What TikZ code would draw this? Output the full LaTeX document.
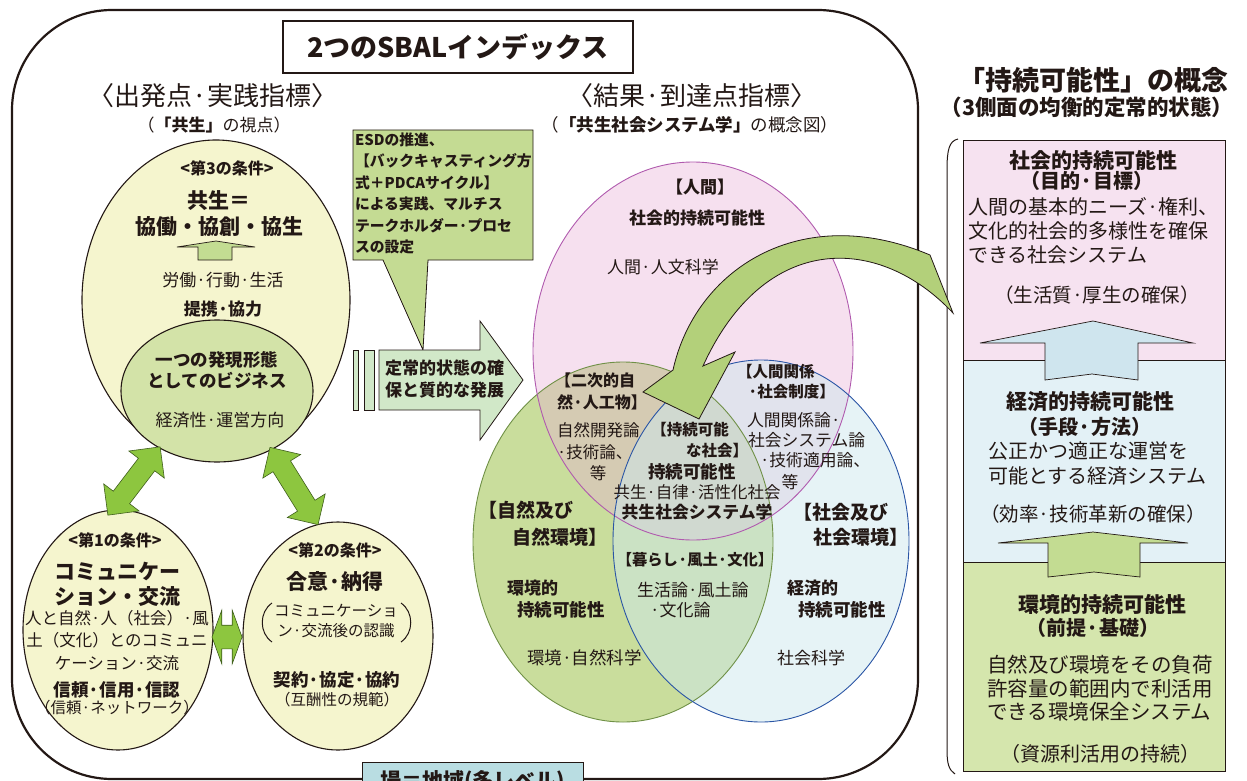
\documentclass[tikz,border=0pt]{standalone}
\usepackage{fontspec}
\setmainfont{Noto Sans CJK JP}
\usetikzlibrary{shapes.geometric,shapes.arrows}
\definecolor{ink}{HTML}{231815}
\definecolor{ylw}{HTML}{F5F5CE}
\definecolor{ingreen}{HTML}{D3E3A8}
\definecolor{dblfill}{HTML}{8DC63F}
\definecolor{dbldraw}{HTML}{3F5E1C}
\definecolor{callout}{HTML}{C4DB93}
\definecolor{pale}{HTML}{D1E8C8}
\definecolor{vgreen}{HTML}{C9DD9C}
\definecolor{vpink}{HTML}{E9B1D7}
\definecolor{vblue}{HTML}{CDE7ED}
\definecolor{lpink}{HTML}{B05AAE}
\definecolor{lgreen}{HTML}{6F9046}
\definecolor{lblue}{HTML}{2A55A5}
\definecolor{bpink}{HTML}{F6E2F0}
\definecolor{bblue}{HTML}{E3F1F6}
\definecolor{bgreen}{HTML}{D5E6AD}
\definecolor{ablue}{HTML}{CFE5EE}
\definecolor{agreen}{HTML}{C3DC92}
\definecolor{curvegreen}{HTML}{B3D07A}
\definecolor{placeblue}{HTML}{B9DDE2}
\newcommand{\fsz}[2]{\fontsize{#1}{#2}\selectfont}
\begin{document}
\begin{tikzpicture}[x=1pt,y=-1pt,
  txt/.style={text=ink,inner sep=0pt,outer sep=0pt},
  tr/.style={txt,font=\fsz{#1}{#1}},
  tb/.style={txt,font=\fsz{#1}{#1}\bfseries},
  oval/.style={ellipse,draw=ink,line width=1.1pt,inner sep=0pt},
  dbl/.style={double arrow,fill=dblfill,draw=dbldraw,line width=0.6pt,inner xsep=0pt},
  blockup/.style={draw=ink,line width=0.7pt},
  panel/.style={rectangle,draw=ink,line width=0.9pt,inner sep=0pt,minimum width=262pt},
  venn/.style={ellipse,inner sep=0pt},
]
\useasboundingbox (0,0) rectangle (1247,781);
% ---------- frame ----------
\draw[ink,line width=2.2pt,rounded corners=100pt] (12,10) rectangle (918,779);
\node[draw=ink,line width=1.1pt,fill=white,minimum width=350pt,minimum height=52pt,tb=27] (title) at (458,47) {2つのSBALインデックス};
% ---------- headings ----------
\node[tr=26] (hL) at (213,96) {〈出発点·実践指標〉};
\node[tr=17] (hL2) at (214,125) {（\textbf{「共生」}の視点）};
\node[tr=26] (hM) at (692,96) {〈結果·到達点指標〉};
\node[tr=17.5] (hM2) at (690,125) {（\textbf{「共生社会システム学」}の概念図）};
% ---------- left top ellipse ----------
\node[oval,fill=ylw,minimum width=268pt,minimum height=320pt] (big) at (216,300) {};
\node[oval,fill=ingreen,minimum width=192pt,minimum height=142pt] (inner) at (217,391) {};
\node[tb=16] (c3) at (227,168) {<第3の条件>};
\node[txt,align=center,font=\fsz{21}{26}\bfseries] (kyosei) at (219,214) {共生＝\\協働・協創・協生};
\draw[blockup,fill=agreen] (177,247) -- (216,241) -- (255,247) -- (232,247) -- (232,260) -- (198,260) -- (198,247) -- cycle;
\node[tr=17] (rodo) at (223,280) {労働·行動·生活};
\node[tb=17] (teikei) at (223,309) {提携·協力};
\node[txt,align=center,font=\fsz{17.5}{21}\bfseries] (biz) at (217,370) {一つの発現形態\\としてのビジネス};
\node[tr=17] (keizai) at (220,420) {経済性·運営方向};
% ---------- bottom ellipses ----------
\node[oval,fill=ylw,minimum width=190pt,minimum height=240pt] (c1) at (118,630) {};
\node[oval,fill=ylw,minimum width=190pt,minimum height=228pt] (c2) at (338,636) {};
\node[tb=16] (c1a) at (115,540) {<第1の条件>};
\node[txt,align=center,font=\fsz{21}{25}\bfseries] (c1b) at (117,584.5) {コミュニケー\\ション・交流};
\node[txt,align=center,font=\fsz{16.5}{22.5}] (c1c) at (117,640.5) {人と自然·人（社会）·風\\土（文化）とのコミュニ\\ケーション·交流};
\node[tb=17.5] (c1d) at (117,690) {信頼·信用·信認};
\node[tr=15.5] (c1e) at (117,708) {（信頼·ネットワーク）};
\node[tb=16] (c2a) at (335,550) {<第2の条件>};
\node[tb=21] (c2b) at (335,582) {合意·納得};
\node[txt,align=center,font=\fsz{15.5}{20}] (c2c) at (336,621) {コミュニケーショ\\ン·交流後の認識};
\draw[ink,line width=1pt] (272,603) .. controls (259,612) and (259,633) .. (272,642);
\draw[ink,line width=1pt] (401,603) .. controls (414,612) and (414,633) .. (401,642);
\node[tb=17.5] (c2d) at (337,680) {契約·協定·協約};
\node[tr=15.5] (c2e) at (337,700) {（互酬性の規範）};
% double arrows
\node[dbl,minimum height=86pt,inner ysep=10pt,double arrow head extend=12pt,rotate=52.6] (arL) at (134,481) {};
\node[dbl,minimum height=91pt,inner ysep=10pt,double arrow head extend=12pt,rotate=-58.1] (arR) at (294,486) {};
\node[dbl,minimum height=30pt,inner ysep=11.5pt,double arrow head extend=15pt,double arrow tip angle=140] (arH) at (227,637) {};
% ---------- callout & middle arrow ----------
\draw[ink,line width=0.8pt,fill=callout] (353,130) -- (533,130) -- (533,260) -- (428,260) -- (423,350) -- (383,260) -- (353,260) -- cycle;
\node[txt,align=left,anchor=west,font=\fsz{14.8}{21.4}\bfseries] (esd) at (355,193.5) {ESDの推進、\\【バックキャスティング方\\式＋PDCAサイクル】\\による実践、マルチス\\テークホルダー·プロセ\\スの設定};
\draw[ink,line width=0.8pt,fill=pale] (353,350) rectangle (358,410);
\draw[ink,line width=0.8pt,fill=pale] (364,350) rectangle (374,410);
\draw[ink,line width=0.8pt,fill=pale] (379,350) -- (480,350) -- (480,321) -- (523,380) -- (480,440) -- (480,410) -- (379,410) -- cycle;
\node[txt,align=left,anchor=west,font=\fsz{17}{22}\bfseries] (teijo) at (385,379) {定常的状態の確\\保と質的な発展};
% ---------- Venn ----------
\node[venn,fill=vgreen,minimum width=300pt,minimum height=360pt] (vg) at (623,542) {};
\node[venn,fill=vpink,fill opacity=0.4,minimum width=320pt,minimum height=378pt] (vp) at (693,351) {};
\node[venn,fill=vblue,fill opacity=0.5,minimum width=296pt,minimum height=362pt] (vb) at (761,541) {};
\draw[lgreen,line width=0.9pt] (vg.center) ellipse[x radius=150,y radius=180];
\draw[lpink,line width=0.9pt] (vp.center) ellipse[x radius=160,y radius=189];
\draw[lblue,line width=0.9pt] (vb.center) ellipse[x radius=148,y radius=181];
% ---------- right panel ----------
\node[tb=27] (rh1) at (1093,80) {「持続可能性」の概念};
\node[tb=21.5] (rh2) at (1087,107) {（3側面の均衡的定常的状態）};
\draw[ink,line width=1pt] (958,139) .. controls (949,141) and (947,150) .. (947,170) -- (947,750) .. controls (947,764) and (949,770) .. (955,774);
\node[panel,fill=bpink,minimum height=220pt] (rp) at (1094,250) {};
\node[panel,fill=bblue,minimum height=202pt] (rb) at (1094,461) {};
\node[panel,fill=bgreen,minimum height=209pt] (rg) at (1094,666.5) {};
\draw[blockup,fill=ablue] (980,343) -- (1093,321) -- (1193,343) -- (1138,343) -- (1138,380) -- (1092,374) -- (1045,380) -- (1045,343) -- cycle;
\draw[blockup,fill=agreen] (998,543) -- (1093,532) -- (1188,543) -- (1140,543) -- (1140,577) -- (1094,572) -- (1048,577) -- (1048,543) -- cycle;
\node[tb=21] (rp1) at (1093,160) {社会的持続可能性};
\node[tb=20] (rp2) at (1087,181) {（目的·目標）};
\node[txt,align=left,anchor=west,font=\fsz{20}{24}] (rp3) at (968,231) {人間の基本的ニーズ·権利、\\文化的社会的多様性を確保\\できる社会システム};
\node[tr=19.5] (rp4) at (1097,295) {（生活質·厚生の確保）};
\node[tb=21] (rb1) at (1090,402) {経済的持続可能性};
\node[tb=20] (rb2) at (1085,427) {（手段·方法）};
\node[txt,align=left,anchor=west,font=\fsz{20}{25}] (rb3) at (988,463) {公正かつ適正な運営を\\可能とする経済システム};
\node[tr=19.5] (rb4) at (1093,514) {（効率·技術革新の確保）};
\node[tb=21] (rg1) at (1102,604) {環境的持続可能性};
\node[tb=20] (rg2) at (1093,628) {（前提·基礎）};
\node[txt,align=left,anchor=west,font=\fsz{20.5}{23.5}] (rg3) at (987,688.5) {自然及び環境をその負荷\\許容量の範囲内で利活用\\できる環境保全システム};
\node[tr=20] (rg4) at (1100,754) {（資源利活用の持続）};
% ---------- big curved arrow ----------
\draw[ink,line width=0.8pt,fill=curvegreen] (643,392) -- (673,370) .. controls (695,270) and (800,200) .. (930,255) -- (953,313) .. controls (880,235) and (765,230) .. (703,366) -- (735,352) -- (699,419) -- cycle;
% ---------- Venn texts ----------
\node[tb=17] (v1) at (700,187) {【人間】};
\node[tb=17] (v2) at (697,218) {社会的持続可能性};
\node[tr=17] (v3) at (663,267) {人間·人文科学};
\node[tb=16,anchor=west] (v4) at (555,380) {【二次的自};
\node[tb=16,anchor=west] (v5) at (557,402) {然·人工物】};
\node[tr=16.5,anchor=west] (v6) at (557,430) {自然開発論};
\node[tr=16.5,anchor=west] (v7) at (557,452) {·技術論、};
\node[tr=16.5] (v8) at (598,473) {等};
\node[tb=15.5] (v9) at (690,430) {【持続可能};
\node[tb=15.5] (v10) at (717,451) {な社会】};
\node[tb=17.5] (v11) at (692,472) {持続可能性};
\node[tr=16.5] (v12) at (697,492) {共生·自律·活性化社会};
\node[tb=16.8] (v13) at (697,512) {共生社会システム学};
\node[tb=15.5,anchor=west] (v14) at (737,372) {【人間関係};
\node[tb=15.5,anchor=west] (v15) at (748,392) {·社会制度】};
\node[tr=16.8,anchor=west] (v16) at (747,420) {人間関係論·};
\node[tr=16.8,anchor=west] (v17) at (748,440) {社会システム論};
\node[tr=16.8,anchor=west] (v18) at (760,460) {·技術適用論、};
\node[tr=16.8] (v19) at (790,482) {等};
\node[tb=19,anchor=west] (v20) at (478,510) {【自然及び};
\node[tb=19,anchor=west] (v21) at (512,537) {自然環境】};
\node[tb=17,anchor=west] (v22) at (507,588) {環境的};
\node[tb=17.5,anchor=west] (v23) at (517,610) {持続可能性};
\node[tr=17.5,anchor=west] (v24) at (527,658) {環境·自然科学};
\node[tb=15.3] (v25) at (695,560) {【暮らし·風土·文化】};
\node[tr=17,anchor=west] (v26) at (637,590) {生活論·風土論};
\node[tr=17,anchor=west] (v27) at (650,610) {·文化論};
\node[tb=19,anchor=west] (v28) at (793,512) {【社会及び};
\node[tb=19,anchor=west] (v29) at (813,537) {社会環境】};
\node[tb=17,anchor=west] (v30) at (787,588) {経済的};
\node[tb=17.5,anchor=west] (v31) at (798,610) {持続可能性};
\node[tr=17,anchor=west] (v32) at (777,658) {社会科学};
% ---------- bottom place box ----------
\node[draw=ink,line width=1pt,fill=placeblue,minimum width=221pt,minimum height=40pt,inner sep=0pt,font=\fsz{21}{21}\bfseries,text=ink] (place) at (472.5,782) {場＝地域(多レベル)};
\end{tikzpicture}
\end{document}
